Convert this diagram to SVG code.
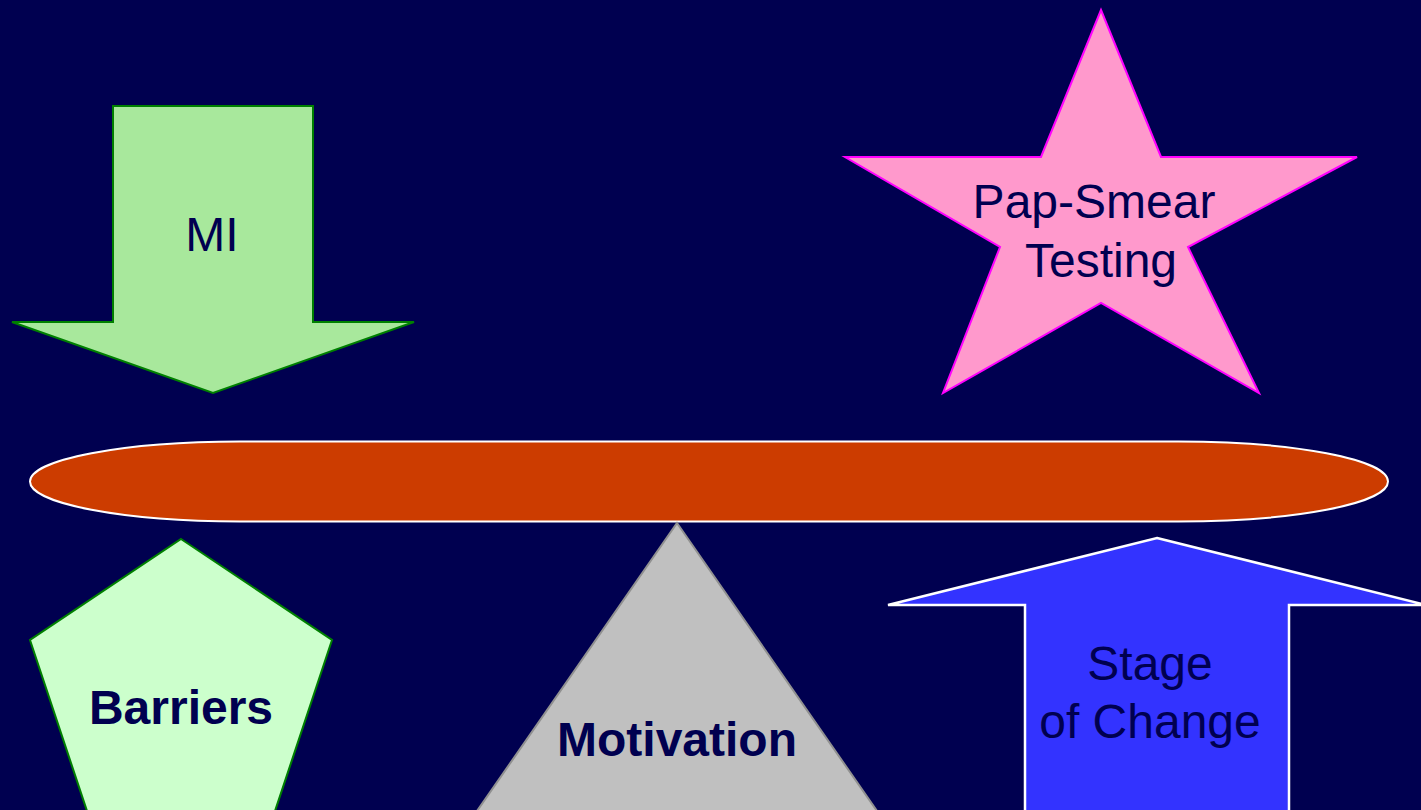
<svg xmlns="http://www.w3.org/2000/svg" width="1421" height="810" viewBox="0 0 1421 810">
  <style>
    .lbl { font-family: "Liberation Sans", Arial, sans-serif; font-size: 48px; fill: #000050; text-anchor: middle; }
    .bold { font-weight: bold; }
  </style>
  <rect width="1421" height="810" fill="#000050"/>

  <!-- balance beam -->
  <g id="beam">
    <path d="M240,441.5 H1178 A210,40 0 0 1 1178,521.5 H240 A210,40 0 0 1 240,441.5 Z" fill="#CC3C00" stroke="#FFFFFF" stroke-width="2"/>
  </g>

  <!-- MI arrow pushing down -->
  <g id="mi">
    <polygon points="113,106 313,106 313,322 414,322 213,393 12,322 113,322" fill="#A8E89C" stroke="#008000" stroke-width="2"/>
    <text class="lbl" x="212" y="251">MI</text>
  </g>

  <!-- star -->
  <g id="pap-smear">
    <polygon points="1101,10 1161,157 1357,157 1188,247 1259,393 1101,303 943,393 1000,247 845,157 1041,157" fill="#FF99CC" stroke="#FF00FF" stroke-width="2"/>
    <text class="lbl" x="1094" y="218">Pap-Smear</text>
    <text class="lbl" x="1101" y="277">Testing</text>
  </g>

  <!-- pentagon -->
  <g id="barriers">
    <polygon points="181,539 332,640 275,811 87,811 30,640" fill="#CCFFCC" stroke="#008000" stroke-width="2"/>
    <text class="lbl bold" x="181" y="724">Barriers</text>
  </g>

  <!-- fulcrum -->
  <g id="motivation">
    <polygon points="677,523 877,811 477,811" fill="#C0C0C0" stroke="#909090" stroke-width="2"/>
    <text class="lbl bold" x="677" y="756">Motivation</text>
  </g>

  <!-- arrow pushing up -->
  <g id="stage">
    <polygon points="1157,538 1426,605 1289,605 1289,812 1025,812 1025,605 888,605" fill="#3333FF" stroke="#FFFFFF" stroke-width="2.5"/>
    <text class="lbl" x="1150" y="680">Stage</text>
    <text class="lbl" x="1150" y="738">of Change</text>
  </g>

  <g id="connectors"/>
</svg>
